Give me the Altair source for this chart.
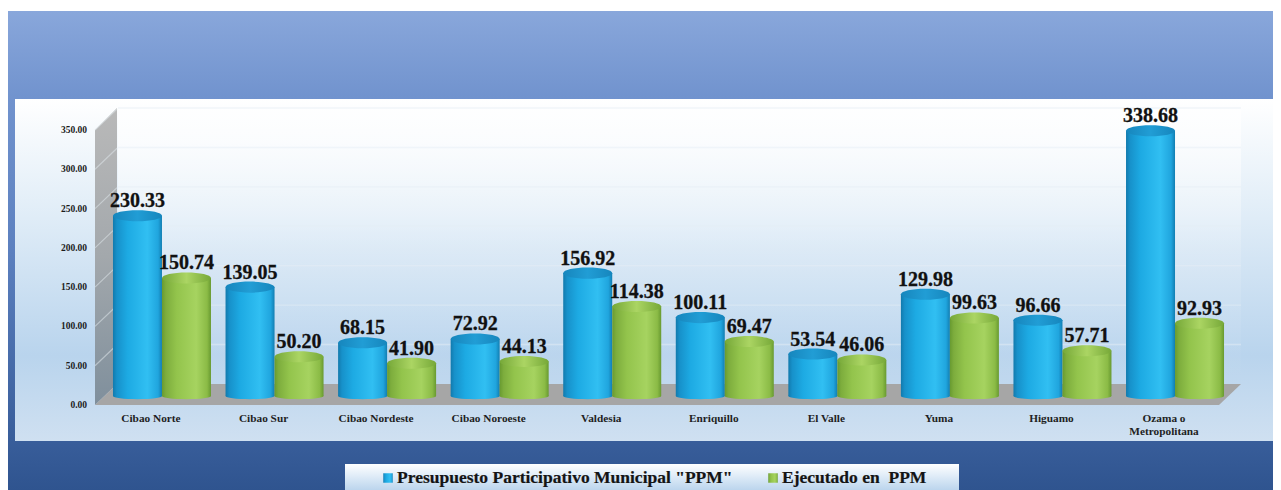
import altair as alt
import pandas as pd

CATEGORIES = ["Cibao Norte", "Cibao Sur", "Cibao Nordeste", "Cibao Noroeste", "Valdesia",
              "Enriquillo", "El Valle", "Yuma", "Higuamo", "Ozama o\nMetropolitana"]
PRESUPUESTO = [230.33, 139.05, 68.15, 72.92, 156.92, 100.11, 53.54, 129.98, 96.66, 338.68]
EJECUTADO = [150.74, 50.20, 41.90, 44.13, 114.38, 69.47, 46.06, 99.63, 57.71, 92.93]
TICKS = [0, 50, 100, 150, 200, 250, 300, 350]
SERIES = ['Presupuesto Participativo Municipal "PPM"', "Ejecutado en\u00a0 PPM"]

SERIF = "Liberation Serif"
W, H = 1265, 482


def grad(stops, horizontal=False):
    return alt.Gradient(
        gradient="linear",
        stops=[alt.GradientStop(offset=o, color=c) for o, c in stops],
        x1=0, y1=0,
        x2=1 if horizontal else 0,
        y2=0 if horizontal else 1,
    )


def one():
    return alt.Data(values=[{"a": 1}])


def box(x0, x1, y0, y1, fill):
    return alt.Chart(one()).mark_rect(fill=fill, strokeWidth=0).encode(
        x=alt.value(x0), x2=alt.value(x1), y=alt.value(y0), y2=alt.value(y1))


# scales
x_cat = alt.Scale(type="band", domain=CATEGORIES, range=[97.7, 1223.3], paddingInner=0, paddingOuter=0, round=False)
y_bar = alt.Scale(domain=[0, 350], range=[388, 113.95])
y_front = alt.Scale(domain=[0, 350], range=[397, 122])
y_back = alt.Scale(domain=[0, 350], range=[376, 100])
px_x = alt.Scale(domain=[0, W], range=[0, W])
px_y = alt.Scale(domain=[0, H], range=[0, H])

df_a = pd.DataFrame({"cat": CATEGORIES, "v": PRESUPUESTO, "zero": 0})
df_b = pd.DataFrame({"cat": CATEGORIES, "v": EJECUTADO, "zero": 0})
df_t = pd.DataFrame({"tick": TICKS})
df_t["back"] = df_t["tick"] + 26.7

layers = [
    box(0, W, 3, H, grad([(0, "#89a7db"), (0.18, "#7193ce"), (0.5, "#5c80bf"), (0.89, "#395e9b"), (1, "#2f548f")])),
    box(7, W, 91, 433, grad([(0, "#ffffff"), (0.35, "#dfecf7"), (0.75, "#b9d4ed"), (1, "#cfe0f1")])),
    box(110, 1233, 100, 376, grad([(0, "rgba(255,255,255,0.75)"), (0.5, "rgba(255,255,255,0.15)"), (1, "rgba(255,255,255,0)")])),
]

# side wall and floor (chart furniture, in pixels)
wall = pd.DataFrame({"x": [87, 109], "y": [122, 100], "y2": [397, 376]})
floor = pd.DataFrame({"x": [87, 109, 1211, 1233], "y": [397, 376, 376, 376], "y2": [397, 397, 397, 376]})
layers.append(alt.Chart(wall).mark_area(
    fill=grad([(0, "#b9b9b9"), (0.5, "#a3a8ac"), (1, "#7f8f9c")]), line=False).encode(
    x=alt.X("x:Q", scale=px_x, axis=None),
    y=alt.Y("y:Q", scale=px_y, axis=None), y2="y2:Q"))
layers.append(alt.Chart(floor).mark_area(fill="#a6a6a6", line=False).encode(
    x=alt.X("x:Q", scale=px_x, axis=None),
    y=alt.Y("y:Q", scale=px_y, axis=None), y2="y2:Q"))

# gridlines
layers.append(alt.Chart(df_t[df_t.tick > 0]).mark_rule(color="#e6eef5", strokeWidth=1.4, opacity=0.5).encode(
    x=alt.value(110), x2=alt.value(1233),
    y=alt.Y("tick:Q", scale=y_back, axis=None)))
layers.append(alt.Chart(df_t[df_t.tick > 0]).mark_rule(color="#dfe6ea", strokeWidth=1.2, opacity=0.55).encode(
    x=alt.value(87), x2=alt.value(109),
    y=alt.Y("tick:Q", scale=y_front, axis=None), y2="back:Q"))

# tick labels
layers.append(alt.Chart(df_t).mark_text(
    align="right", baseline="middle", font=SERIF, fontWeight="bold", fontSize=9.5, color="#1c1c1c").encode(
    x=alt.value(79),
    y=alt.Y("tick:Q", scale=y_front, axis=None),
    text=alt.Text("tick:Q", format=".2f")))

CAP_TOP = "M-1,0A1,0.225,0,1,1,1,0A1,0.225,0,1,1,-1,0Z"
CAP_BOT = "M-1,0A1,0.13,0,1,1,1,0A1,0.13,0,1,1,-1,0Z"
BAR_W = 49


def cylinder(df, off, body, cap):
    X = alt.X("cat:N", scale=x_cat, axis=None)
    Y = alt.Y("v:Q", scale=y_bar, axis=None)
    Y0 = alt.Y("zero:Q", scale=y_bar, axis=None)
    return [
        alt.Chart(df).mark_point(shape=CAP_BOT, size=BAR_W ** 2, filled=True, fill=body, opacity=1,
                                 strokeWidth=0, xOffset=off).encode(x=X, y=Y0),
        alt.Chart(df).mark_bar(size=BAR_W, fill=body, xOffset=off, strokeWidth=0).encode(x=X, y=Y, y2="zero:Q"),
        alt.Chart(df).mark_point(shape=CAP_TOP, size=BAR_W ** 2, filled=True, fill=cap, opacity=1,
                                 strokeWidth=0, xOffset=off).encode(x=X, y=Y),
        alt.Chart(df).mark_text(baseline="alphabetic", dy=-8.5, font=SERIF, fontWeight="bold", fontSize=20,
                                color="#111111", stroke="#111111", strokeWidth=0.3, xOffset=off).encode(
            x=X, y=Y, text=alt.Text("v:Q", format=".2f")),
    ]


blue_body = grad([(0, "#127aad"), (0.08, "#1791ca"), (0.3, "#1daae3"), (0.7, "#31bff2"), (0.92, "#20a5de"), (1, "#127eb2")], True)
blue_cap = grad([(0, "#1686bd"), (0.5, "#219dd5"), (1, "#1686bd")], True)
green_body = grad([(0, "#689a30"), (0.08, "#7dad3d"), (0.3, "#93c44c"), (0.7, "#a6d360"), (0.92, "#8bbb46"), (1, "#689a30")], True)
green_cap = grad([(0, "#76a838"), (0.5, "#abd563"), (1, "#76a838")], True)

layers += cylinder(df_a, -BAR_W / 2, blue_body, blue_cap)
layers += cylinder(df_b, BAR_W / 2, green_body, green_cap)

# category labels
df_c = pd.DataFrame({"cat": CATEGORIES})
layers.append(alt.Chart(df_c).mark_text(
    font=SERIF, fontWeight="bold", fontSize=11.3, color="#1f1f1f", baseline="middle", lineBreak="\n",
    lineHeight=13, xOffset=-11).encode(
    x=alt.X("cat:N", scale=x_cat, axis=None),
    y=alt.value(411),
    text="cat:N"))

# legend
layers.append(box(337, 951, 456, H, grad([(0, "#ffffff"), (0.6, "#d6e6f5"), (1, "#bcd5ed")])))
for name, mx, tx, body in [(SERIES[0], 380, 389, blue_body), (SERIES[1], 765, 774, green_body)]:
    layers.append(alt.Chart(one()).mark_point(shape="square", size=90, filled=True, fill=body, opacity=1,
                                              strokeWidth=0).encode(x=alt.value(mx), y=alt.value(470)))
    layers.append(alt.Chart(alt.Data(values=[{"n": name}])).mark_text(
        align="left", baseline="alphabetic", font=SERIF, fontWeight="bold", fontSize=17.5, color="#141414",
        stroke="#141414", strokeWidth=0.2).encode(
        x=alt.value(tx), y=alt.value(475), text="n:N"))

chart = alt.layer(*layers).resolve_scale(x="independent", y="independent").properties(
    width=W, height=H, padding=0, autosize=alt.AutoSizeParams(type="none"), background="white"
).configure_view(stroke=None)

chart.save("out.html", embed_options={"renderer": "svg", "actions": False})
